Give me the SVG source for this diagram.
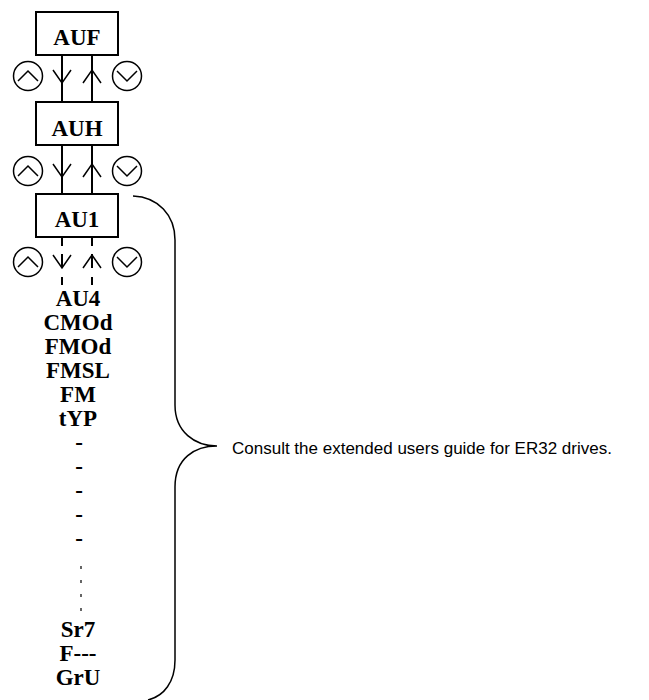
<svg xmlns="http://www.w3.org/2000/svg" width="649" height="700" viewBox="0 0 649 700">
<style>
.box{fill:#fff;stroke:#000;stroke-width:2}
.lbl{font-family:"Liberation Serif","Times New Roman",serif;font-weight:bold;font-size:23px;text-anchor:middle;fill:#000}
.ln{stroke:#000;stroke-width:2;fill:none}
.chev{stroke:#000;stroke-width:1.5;fill:none}
.circ{stroke:#000;stroke-width:1.5;fill:#fff}
.br{stroke:#000;stroke-width:1.5;fill:none}
.note{font-family:"Liberation Sans",Arial,sans-serif;font-size:17px;fill:#000}
</style>
<defs>
<g id="upbtn"><circle class="circ" cx="0" cy="0" r="14.5"/><path class="chev" d="M-10,5 L0,-5 L10,5"/></g>
<g id="dnbtn"><circle class="circ" cx="0" cy="0" r="14.5"/><path class="chev" d="M-10,-5 L0,5 L10,-5"/></g>
<path id="darr" class="chev" d="M-9,-6 L0,7 L9,-6"/>
<path id="uarr" class="chev" d="M-9,7 L0,-6 L9,7"/>
</defs>
<g id="connectors">
<line class="ln" x1="62" y1="55" x2="62" y2="102"/>
<line class="ln" x1="92" y1="55" x2="92" y2="102"/>
<line class="ln" x1="62" y1="145" x2="62" y2="194"/>
<line class="ln" x1="92" y1="145" x2="92" y2="194"/>
<path class="ln" d="M62,238 V246 M62,254 V268 M62,277 V285 M92,238 V246 M92,254 V268 M92,277 V285"/>
<line x1="81" y1="566" x2="81" y2="616" stroke="#000" stroke-width="1.2" stroke-dasharray="3 11"/>
<use href="#darr" x="62" y="76"/>
<use href="#uarr" x="92" y="76"/>
<use href="#darr" x="62" y="170"/>
<use href="#uarr" x="92" y="170"/>
<use href="#darr" x="62" y="261"/>
<use href="#uarr" x="92" y="261"/>
</g>
<g id="AUF"><rect class="box" x="36" y="12" width="82" height="43"/><text class="lbl" x="77" y="45">AUF</text></g>
<g id="AUH"><rect class="box" x="36" y="102" width="82" height="43"/><text class="lbl" x="77" y="136">AUH</text></g>
<g id="AU1"><rect class="box" x="36" y="194" width="82" height="43"/><text class="lbl" x="77" y="227">AU1</text></g>
<g id="buttons">
<use href="#upbtn" x="28" y="76"/><use href="#dnbtn" x="127" y="76"/>
<use href="#upbtn" x="28" y="171"/><use href="#dnbtn" x="127" y="171"/>
<use href="#upbtn" x="28" y="262"/><use href="#dnbtn" x="127" y="262"/>
</g>
<g id="list">
<text class="lbl" x="78" y="306">AU4</text>
<text class="lbl" x="78" y="330">CMOd</text>
<text class="lbl" x="78" y="354">FMOd</text>
<text class="lbl" x="78" y="378">FMSL</text>
<text class="lbl" x="78" y="402">FM</text>
<text class="lbl" x="78" y="426">tYP</text>
<text class="lbl" x="79" y="450">-</text>
<text class="lbl" x="79" y="474">-</text>
<text class="lbl" x="79" y="498">-</text>
<text class="lbl" x="79" y="522">-</text>
<text class="lbl" x="79" y="546">-</text>
<text class="lbl" x="78" y="637">Sr7</text>
<text class="lbl" x="78" y="661">F---</text>
<text class="lbl" x="78" y="685">GrU</text>
</g>
<g id="bracket">
<path class="br" d="M133,196 C158,197 175,215 175,240 V405 C175,432 195,446 217,446 C195,446 175,458 175,487 V660 C175,682 164,696 148,700"/>
</g>
<g id="note"><text class="note" x="232" y="454">Consult the extended users guide for ER32 drives.</text></g>
</svg>
